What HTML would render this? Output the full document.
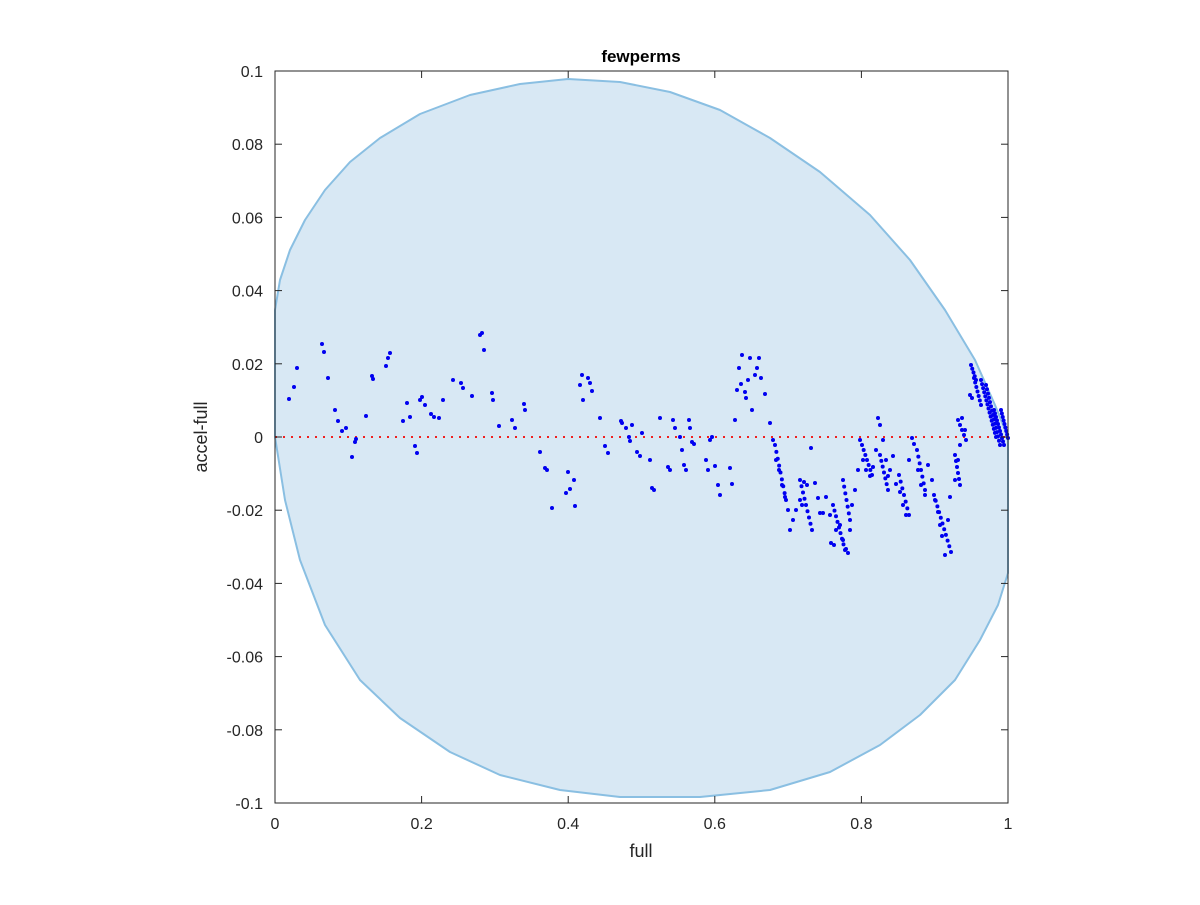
<!DOCTYPE html>
<html><head><meta charset="utf-8"><style>
body{margin:0;background:#fff;}
svg text{font-family:"Liberation Sans",sans-serif;}
</style></head><body>
<svg id="s" width="1200" height="900" xmlns="http://www.w3.org/2000/svg">
<rect x="275" y="71" width="733" height="732" fill="#fff"/>
<path d="M275,310 L280,280 290,250 305,220 325,190 350,162 380,138 420,114 470,95 520,84 568,79 620,82 670,92 720,110 770,138 820,172 870,215 910,260 945,310 975,360 995,405 1008,437 L1008,573 998,605 980,640 955,680 920,715 880,745 830,772 770,790 700,797 620,797 560,790 500,775 450,752 400,718 360,680 325,625 300,560 285,500 275,437 Z" fill="#d8e8f4" stroke="#8abfe2" stroke-width="2" stroke-linejoin="round"/>
<line x1="275" y1="437" x2="1008" y2="437" stroke="#f02020" stroke-width="2" stroke-dasharray="2,6"/>
<g id="pts" fill="#0000f0"></g>
<rect x="275" y="71" width="733" height="732" fill="none" stroke="#262626" stroke-width="1"/>
<g stroke="#262626" stroke-width="1" id="ticks"></g>
<g font-size="16" fill="#262626" id="lbl"></g>
<text x="641" y="62" text-anchor="middle" font-size="17" font-weight="bold" fill="#000">fewperms</text>
<text x="641" y="857" text-anchor="middle" font-size="18" fill="#262626">full</text>
<text x="207" y="437" text-anchor="middle" font-size="18" fill="#262626" transform="rotate(-90 207 437)">accel-full</text>
</svg>
<script>
var NS="http://www.w3.org/2000/svg";
var t=document.getElementById("ticks"),l=document.getElementById("lbl");
function add(p,tag,a,txt){var e=document.createElementNS(NS,tag);for(var k in a)e.setAttribute(k,a[k]);if(txt!=null)e.textContent=txt;p.appendChild(e);}
for(var i=0;i<=5;i++){var x=275+733*i/5;
add(t,"line",{x1:x,y1:803,x2:x,y2:796});add(t,"line",{x1:x,y1:71,x2:x,y2:78});
add(l,"text",{x:x,y:829,"text-anchor":"middle"},["0","0.2","0.4","0.6","0.8","1"][i]);}
var yl=["0.1","0.08","0.06","0.04","0.02","0","-0.02","-0.04","-0.06","-0.08","-0.1"];
for(var i=0;i<=10;i++){var y=71+73.2*i;
add(t,"line",{x1:275,y1:y,x2:282,y2:y});add(t,"line",{x1:1008,y1:y,x2:1001,y2:y});
add(l,"text",{x:263,y:y+6,"text-anchor":"end"},yl[i]);}
var P=[289,399,294,387,297,368,322,344,324,352,328,378,335,410,338,421,342,431,346,428,352,457,355,442,356,439,366,416,372,376,373,379,386,366,388,358,390,353,403,421,407,403,410,417,415,446,417,453,420,400,422,397,425,405,431,414,434,417,439,418,443,400,453,380,461,383,463,388,472,396,480,335,482,333,484,350,492,393,493,400,499,426,512,420,515,428,524,404,525,410,540,452,545,468,547,470,552,508,566,493,568,472,570,489,574,480,575,506,580,385,582,375,583,400,588,378,590,383,592,391,600,418,605,446,608,453,621,421,622,423,626,428,629,437,630,441,632,425,637,452,640,456,642,433,650,460,652,488,654,490,660,418,668,467,670,470,673,420,675,428,680,437,682,450,684,465,686,470,689,420,690,428,692,442,694,444,706,460,708,470,710,440,712,437,715,466,718,485,720,495,730,468,732,484,735,420,737,390,739,368,741,384,742,355,745,392,746,398,748,380,750,358,752,410,755,375,757,368,759,358,761,378,765,394,770,423,773,440,776,460,779,470,782,485,785,497,788,510,790,530,793,520,796,510,800,500,802,505,804,482,807,485,811,448,815,483,818,498,820,513,823,513,826,497,830,515,831,543,834,545,836,530,840,525,843,540,846,549,848,553,850,530,852,505,855,490,858,470,860,440,863,460,866,470,870,476,873,467,876,450,878,418,880,425,883,440,886,460,888,476,890,470,893,456,896,484,900,492,903,505,906,515,909,460,912,438,914,444,918,470,921,485,925,495,928,465,932,480,935,500,938,512,940,525,942,536,945,555,948,520,950,497,955,480,958,460,960,445,962,418,965,430];
var g=document.getElementById("pts");
for(var i=0;i<P.length;i+=2)add(g,"circle",{cx:P[i],cy:P[i+1],r:2});
function seg(x0,y0,x1,y1,n){for(var k=0;k<=n;k++){var f=k/n;add(g,"circle",{cx:x0+(x1-x0)*f,cy:y0+(y1-y0)*f,r:2});}}
seg(843,480,850,520,6);seg(862,445,872,475,6);seg(880,455,888,490,6);seg(899,475,909,515,6);seg(917,450,925,490,6);
seg(934,495,951,552,10);seg(955,455,960,485,5);seg(958,420,966,440,4);
seg(971,365,976,380,4);seg(974,378,981,405,6);seg(981,380,996,437,14);seg(986,385,1000,445,14);
seg(994,410,1004,445,10);seg(1001,410,1008,438,8);seg(970,395,972,398,1);
seg(775,445,786,500,8);seg(800,480,812,530,8);seg(833,505,845,550,8);
</script>
</body></html>
